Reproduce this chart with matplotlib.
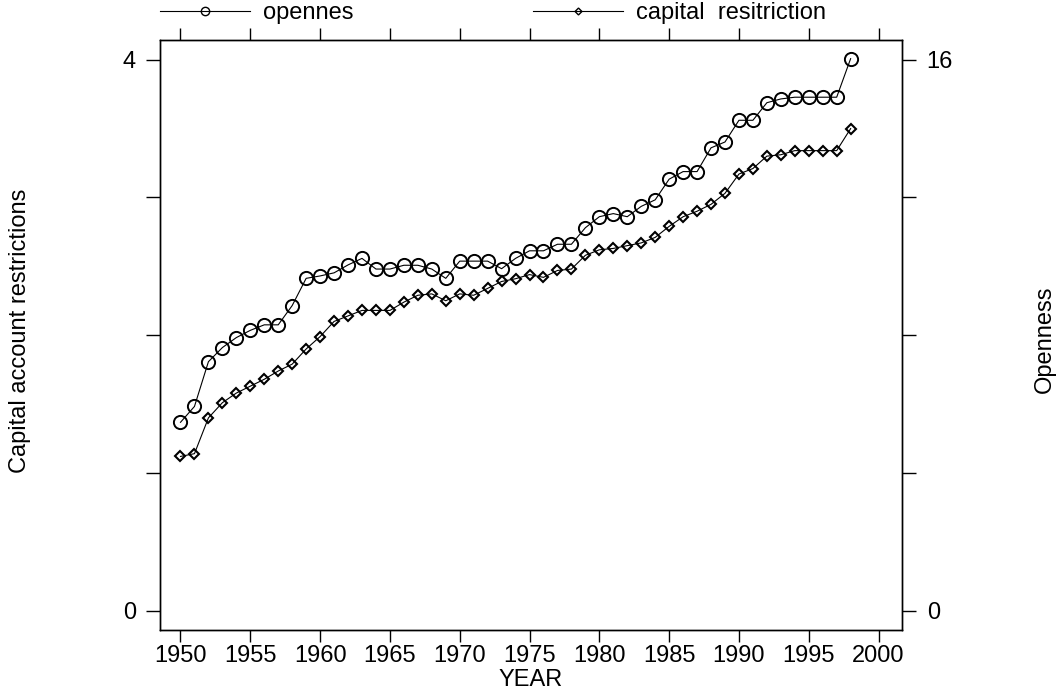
import matplotlib
matplotlib.use("Agg")
import matplotlib.pyplot as plt
from matplotlib.lines import Line2D

plt.rcParams['font.family'] = ['Liberation Sans', 'DejaVu Sans']
plt.rcParams['font.size'] = 17

years = list(range(1950, 1999))

# capital account restrictions (left axis)
capital = [1.12, 1.14, 1.40, 1.51, 1.58, 1.63, 1.68, 1.74, 1.79, 1.90,
           1.99, 2.10, 2.14, 2.18, 2.18, 2.18, 2.24, 2.29, 2.30, 2.25,
           2.30, 2.29, 2.34, 2.39, 2.41, 2.44, 2.42, 2.47, 2.48, 2.58,
           2.62, 2.63, 2.65, 2.67, 2.71, 2.79, 2.86, 2.90, 2.95, 3.03,
           3.17, 3.21, 3.30, 3.31, 3.34, 3.34, 3.34, 3.34, 3.50]

# openness (right axis)
openness = [5.47, 5.93, 7.23, 7.64, 7.93, 8.14, 8.30, 8.30, 8.86, 9.65,
            9.72, 9.81, 10.04, 10.23, 9.92, 9.92, 10.03, 10.03, 9.92, 9.65,
            10.15, 10.15, 10.15, 9.93, 10.23, 10.45, 10.45, 10.64, 10.64, 11.12,
            11.44, 11.53, 11.44, 11.74, 11.93, 12.53, 12.75, 12.75, 13.44, 13.61,
            14.24, 14.24, 14.75, 14.86, 14.91, 14.91, 14.91, 14.91, 16.03]

x_ticks = list(range(1950, 2001, 5))
left_ticks = [0, 1, 2, 3, 4]
left_labels = ['0', '', '', '', '4']
right_ticks = [0, 4, 8, 12, 16]
right_labels = ['0', '', '', '', '16']

fig = plt.figure(figsize=(10.59, 6.91), dpi=100)
ax1 = fig.add_axes([0.1508, 0.0883, 0.7007, 0.8534])
ax2 = ax1.twinx()

ax1.plot(years, capital, color='black', linewidth=0.8, marker='D', markersize=5,
         markerfacecolor='none', markeredgecolor='black', markeredgewidth=1.5)
ax2.plot(years, openness, color='black', linewidth=0.8, marker='o', markersize=9.5,
         markerfacecolor='none', markeredgecolor='black', markeredgewidth=1.4)

ax1.set_xlim(1948.51, 2001.66)
ax1.set_ylim(-0.140, 4.141)
ax2.set_ylim(-0.561, 16.563)

ax1.set_xticks(x_ticks)
ax1.set_yticks(left_ticks)
ax1.set_yticklabels(left_labels)
ax2.set_yticks(right_ticks)
ax2.set_yticklabels(right_labels)

ax1.tick_params(axis='x', direction='out', length=8.6, width=1, pad=2, top=True, labeltop=False)
ax1.tick_params(axis='y', direction='out', length=10, width=1, pad=7)
ax2.tick_params(axis='y', direction='out', length=10, width=1, pad=8)

for a in (ax1, ax2):
    for sp in a.spines.values():
        sp.set_linewidth(1.0)

ax1.set_xlabel('YEAR', va='center')
ax1.xaxis.set_label_coords(0.5, -0.085)
ax1.set_ylabel('Capital account restrictions', va='center')
ax1.yaxis.set_label_coords(-0.188, 0.507)
ax2.set_ylabel('Openness', va='center', rotation=90)
ax2.yaxis.set_label_coords(1.193, 0.493)

# legend above the plot
h1 = Line2D([], [], color='black', linewidth=0.8, marker='o', markersize=6,
            markerfacecolor='none', markeredgecolor='black', markeredgewidth=1.0)
h2 = Line2D([], [], color='black', linewidth=0.8, marker='D', markersize=3.5,
            markerfacecolor='none', markeredgecolor='black', markeredgewidth=1.0)
leg1 = fig.legend(handles=[h1], labels=['opennes'], loc='center left',
                  bbox_to_anchor=(160 / 1059, 1 - 13 / 691), frameon=False,
                  borderpad=0, borderaxespad=0, handlelength=3.8, handletextpad=0.55,
                  numpoints=1)
leg2 = fig.legend(handles=[h2], labels=['capital  resitriction'], loc='center left',
                  bbox_to_anchor=(533 / 1059, 1 - 13 / 691), frameon=False,
                  borderpad=0, borderaxespad=0, handlelength=3.8, handletextpad=0.55,
                  numpoints=1)

fig.savefig('out.png', dpi=100)
